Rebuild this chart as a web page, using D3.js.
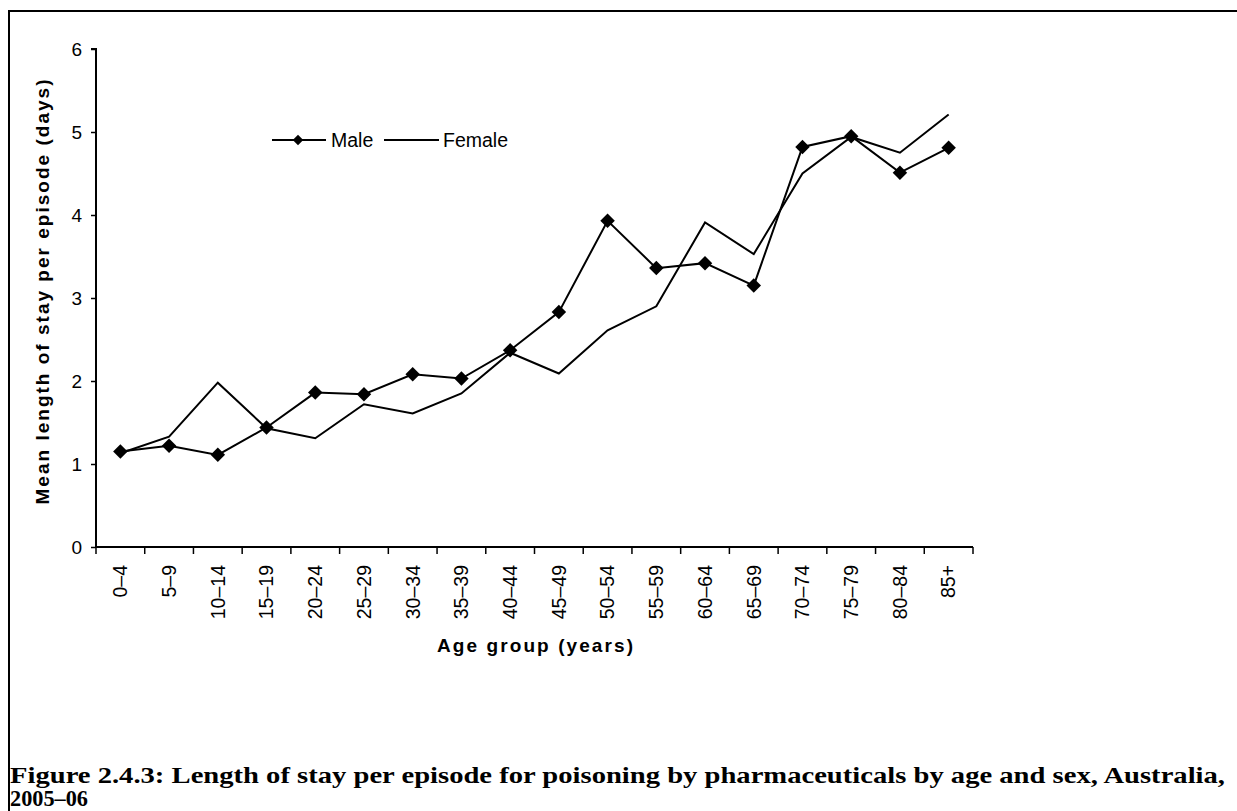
<!DOCTYPE html>
<html><head><meta charset="utf-8">
<script src="https://cdn.jsdelivr.net/npm/d3@7"></script>
<style>body{margin:0;background:#fff}svg{display:block}</style>
</head><body>
<svg id="c" width="1237" height="811"></svg>
<script>
const categories = ["0–4","5–9","10–14","15–19","20–24","25–29","30–34","35–39","40–44","45–49","50–54","55–59","60–64","65–69","70–74","75–79","80–84","85+"];
const male   = [1.15,1.22,1.11,1.44,1.86,1.84,2.08,2.03,2.37,2.83,3.93,3.36,3.42,3.15,4.82,4.95,4.51,4.81];
const female = [1.13,1.33,1.98,1.43,1.31,1.72,1.61,1.85,2.34,2.09,2.61,2.90,3.91,3.53,4.50,4.94,4.75,5.21];
const yTicks = [0,1,2,3,4,5,6];
const seriesNames = ["Male","Female"];
const yTitle = "Mean length of stay per episode (days)";
const xTitle = "Age group (years)";
const caption1 = "Figure 2.4.3: Length of stay per episode for poisoning by pharmaceuticals by age and sex, Australia,";
const caption2 = "2005–06";

const svg = d3.select("#c");
const sans = "'Liberation Sans', Arial, sans-serif";
const serif = "'Liberation Serif', 'DejaVu Serif', serif";

// frame: top and left borders
svg.append("line").attr("x1",8).attr("x2",1237).attr("y1",11).attr("y2",11).attr("stroke","#000").attr("stroke-width",2);
svg.append("line").attr("x1",9).attr("x2",9).attr("y1",10).attr("y2",811).attr("stroke","#000").attr("stroke-width",2);

const x0 = 96, x1 = 973, yTop = 49, yBot = 547;
const x = d3.scaleBand().domain(categories).range([x0,x1]);
const y = d3.scaleLinear().domain([0,6]).range([yBot,yTop]);

// y axis
const ya = svg.append("g").attr("transform",`translate(${x0},0)`)
  .call(d3.axisLeft(y).tickValues(yTicks).tickSize(5).tickPadding(9).tickFormat(d3.format("d")));
ya.select(".domain").attr("stroke-width",2).attr("d",`M-5,${yTop}H0V${yBot}`);
ya.selectAll(".tick line").attr("stroke-width",1.5);
ya.selectAll("text").attr("font-family",sans).attr("font-size",19).attr("fill","#000");

// x axis
const xa = svg.append("g").attr("transform",`translate(0,${yBot})`);
xa.append("line").attr("x1",x0).attr("x2",x1).attr("y1",0).attr("y2",0).attr("stroke","#000").attr("stroke-width",2);
const edges = categories.map(c=>x(c)).concat([x1]);
xa.selectAll("line.t").data(edges).enter().append("line").attr("class","t")
  .attr("x1",d=>d).attr("x2",d=>d).attr("y1",0).attr("y2",7).attr("stroke","#000").attr("stroke-width",1.5);
xa.selectAll("text.lab").data(categories).enter().append("text").attr("class","lab")
  .attr("transform",d=>`translate(${x(d)+x.bandwidth()/2},18) rotate(-90)`)
  .attr("text-anchor","end").attr("dy","0.35em")
  .attr("font-family",sans).attr("font-size",19.5).text(d=>d);

// titles
svg.append("text").attr("transform",`translate(49,292) rotate(-90)`).attr("text-anchor","middle")
  .attr("font-family",sans).attr("font-weight","bold").attr("font-size",19)
  .attr("textLength",425).attr("lengthAdjust","spacing").text(yTitle);
svg.append("text").attr("x",535).attr("y",652).attr("text-anchor","middle")
  .attr("font-family",sans).attr("font-weight","bold").attr("font-size",19)
  .attr("textLength",196).attr("lengthAdjust","spacing").text(xTitle);

// lines
const cx = (d,i)=>x(categories[i])+x.bandwidth()/2;
const line = d3.line().x(cx).y(d=>y(d));
svg.append("path").datum(female).attr("d",line).attr("fill","none").attr("stroke","#000").attr("stroke-width",2);
svg.append("path").datum(male).attr("d",line).attr("fill","none").attr("stroke","#000").attr("stroke-width",2);
const diamond = d3.symbol(d3.symbolSquare,105);
svg.selectAll("path.m").data(male).enter().append("path").attr("class","m")
  .attr("d",diamond).attr("transform",(d,i)=>`translate(${cx(d,i)},${y(d)}) rotate(45)`).attr("fill","#000");

// legend
const lg = svg.append("g");
lg.append("line").attr("x1",272).attr("x2",326).attr("y1",140).attr("y2",140).attr("stroke","#000").attr("stroke-width",2);
lg.append("path").attr("d",d3.symbol(d3.symbolSquare,55)).attr("transform","translate(298,140) rotate(45)");
lg.append("text").attr("x",331).attr("y",140).attr("dy","0.35em").attr("font-family",sans).attr("font-size",19.5).text(seriesNames[0]);
lg.append("line").attr("x1",384).attr("x2",439).attr("y1",140).attr("y2",140).attr("stroke","#000").attr("stroke-width",2);
lg.append("text").attr("x",443).attr("y",140).attr("dy","0.35em").attr("font-family",sans).attr("font-size",19.5).text(seriesNames[1]);

// caption
svg.append("text").attr("x",10).attr("y",783).attr("font-family",serif).attr("font-weight","bold").attr("font-size",23)
  .attr("textLength",1215).attr("lengthAdjust","spacingAndGlyphs").text(caption1);
svg.append("text").attr("x",10).attr("y",806).attr("font-family",serif).attr("font-weight","bold").attr("font-size",23)
  .attr("textLength",78).attr("lengthAdjust","spacingAndGlyphs").text(caption2);
</script>
</body></html>
